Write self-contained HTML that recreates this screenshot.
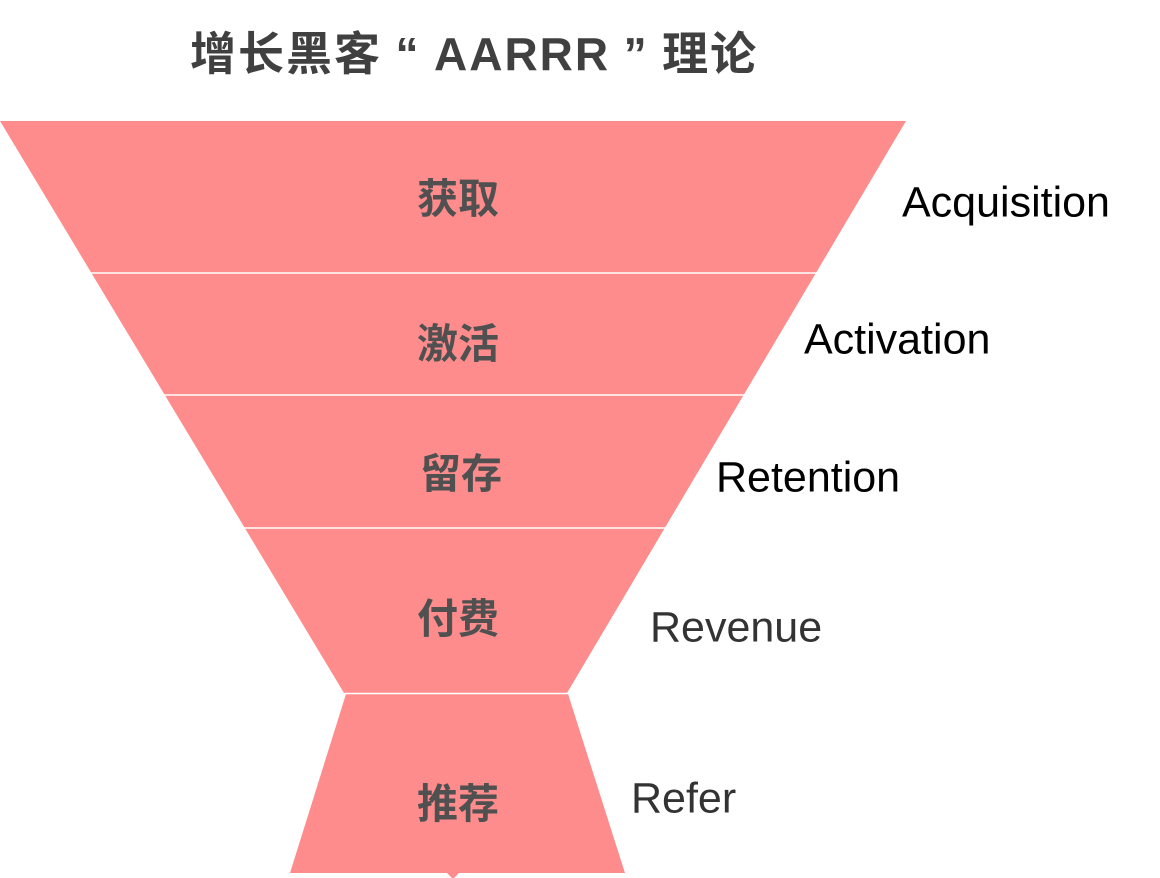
<!DOCTYPE html>
<html><head><meta charset="utf-8"><style>
body{margin:0;width:1160px;height:878px;background:#fff;overflow:hidden;position:relative;font-family:"Liberation Sans","Noto Sans CJK SC",sans-serif}
.t{position:absolute;white-space:nowrap}
.cn{font-weight:bold;font-size:41px;color:#505050;transform:translate(-50%,-50%)}
.en{font-size:43px;transform:translateY(-50%)}
.q{display:inline-block;width:52px;text-align:center}
</style></head><body>
<svg width="1160" height="878" style="position:absolute;left:0;top:0">
<polygon points="0,121 906,121 567,693 344,693" fill="#FF8C8C"/>
<polygon points="346,694 568,694 625,873 290,873" fill="#FF8C8C"/>
<polygon points="447,873 459,873 453,879" fill="#FF8C8C"/>
<g stroke="#fff" stroke-width="1.5">
<line x1="0" y1="273" x2="906" y2="273"/>
<line x1="0" y1="395" x2="906" y2="395"/>
<line x1="0" y1="528" x2="906" y2="528"/>
<line x1="330" y1="693.5" x2="580" y2="693.5"/>
</g>
</svg>
<div class="t" style="left:190px;top:18px;font-size:46px;font-weight:bold;color:#404040;letter-spacing:2px">增长黑客<span class="q">“</span>AARRR<span class="q">”</span>理论</div>
<div class="t cn" style="left:458px;top:195px">获取</div>
<div class="t cn" style="left:458px;top:340px">激活</div>
<div class="t cn" style="left:461px;top:470px">留存</div>
<div class="t cn" style="left:458px;top:615px">付费</div>
<div class="t cn" style="left:458px;top:800px">推荐</div>
<div class="t en" style="left:902px;top:203px;color:#000">Acquisition</div>
<div class="t en" style="left:804px;top:340px;color:#000">Activation</div>
<div class="t en" style="left:716px;top:478px;color:#000">Retention</div>
<div class="t en" style="left:650px;top:628px;color:#333">Revenue</div>
<div class="t en" style="left:631px;top:799px;color:#333">Refer</div>
</body></html>
